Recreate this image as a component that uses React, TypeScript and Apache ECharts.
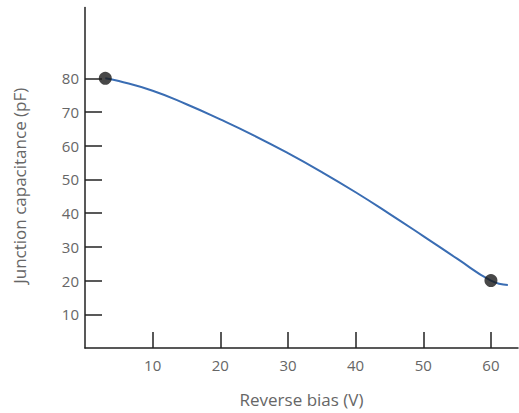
import React, { useEffect, useRef } from "react";
import * as echarts from "echarts";

const biasV = [3, 5, 10, 15, 20, 25, 30, 35, 40, 45, 50, 55, 60, 62.5];
const capacitancePF = [80, 79.2, 76.3, 72.3, 67.8, 63.0, 57.8, 52.2, 46.2, 39.8, 33.2, 26.5, 20, 18.7];
const markedBias = [3, 60];
const markedCap = [80, 20];
const xTicks = [10, 20, 30, 40, 50, 60];
const yTicks = [10, 20, 30, 40, 50, 60, 70, 80];

export default function App() {
  const ref = useRef<HTMLDivElement>(null);
  useEffect(() => {
    if (!ref.current) return;
    const chart = echarts.init(ref.current, null, { renderer: "svg" });
    const font = "Open Sans";
    chart.setOption({
      animation: false,
      backgroundColor: "#ffffff",
      grid: { left: 85, right: 1, top: 7.5, bottom: 65 },
      xAxis: {
        type: "value",
        min: 0,
        max: 64,
        name: "Reverse bias (V)",
        nameLocation: "middle",
        nameGap: 43,
        nameTextStyle: { fontFamily: font, fontSize: 17, color: "#666" },
        axisLine: { show: true, lineStyle: { color: "#222", width: 1.5 } },
        axisTick: { show: true, inside: true, length: 16, customValues: xTicks, lineStyle: { color: "#222", width: 1.5 } },
        axisLabel: { customValues: xTicks, margin: 9, fontFamily: font, fontSize: 15, color: "#666" },
        splitLine: { show: false },
      },
      yAxis: {
        type: "value",
        min: 0,
        max: 101,
        name: "Junction capacitance (pF)",
        nameLocation: "middle",
        nameGap: 57,
        nameTextStyle: { fontFamily: font, fontSize: 17, color: "#666", padding: [0, 16, 0, 0] },
        axisLine: { show: true, lineStyle: { color: "#222", width: 1.5 } },
        axisTick: { show: true, inside: true, length: 17, customValues: yTicks, lineStyle: { color: "#222", width: 1.5 } },
        axisLabel: { customValues: yTicks, margin: 6, fontFamily: font, fontSize: 15, color: "#666" },
        splitLine: { show: false },
      },
      series: [
        {
          type: "line",
          data: biasV.map((x, i) => [x, capacitancePF[i]]),
          smooth: true,
          showSymbol: false,
          lineStyle: { color: "#3a6db3", width: 2 },
          z: 2,
        },
        {
          type: "scatter",
          data: markedBias.map((x, i) => [x, markedCap[i]]),
          symbol: "circle",
          symbolSize: 13,
          itemStyle: { color: "#1a1a1a" },
          z: 3,
        },
      ],
    });
    return () => chart.dispose();
  }, []);
  return <div ref={ref} style={{ width: 519, height: 413, position: "absolute", left: 0, top: 0 }} />;
}
